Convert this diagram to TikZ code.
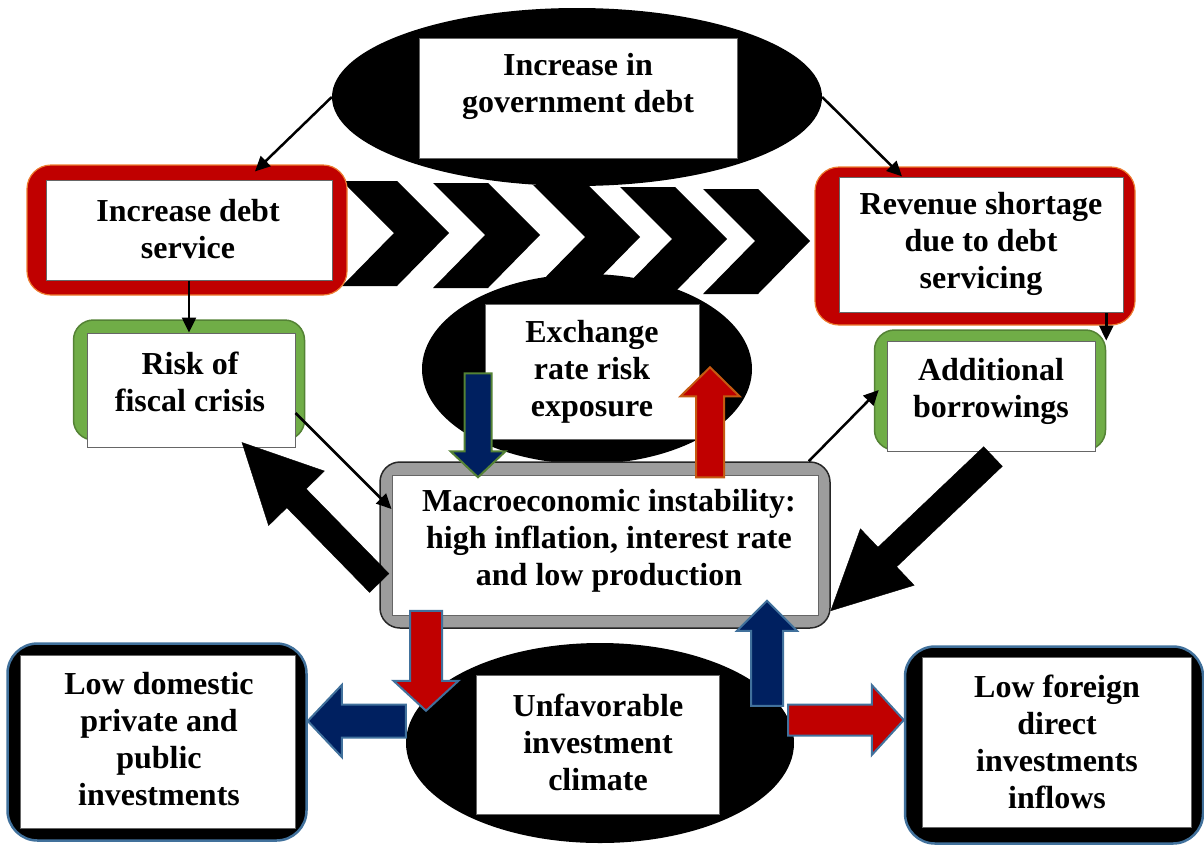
\documentclass[tikz,border=0pt]{standalone}
\usepackage{fontspec}
\setmainfont{Liberation Serif}
\usetikzlibrary{shapes.geometric,arrows.meta,calc}

\definecolor{boxred}{HTML}{C00000}
\definecolor{rimorange}{HTML}{ED7D31}
\definecolor{rimbrown}{HTML}{C55A11}
\definecolor{boxgreen}{HTML}{70AD47}
\definecolor{rimgreen}{HTML}{548235}
\definecolor{navy}{HTML}{002060}
\definecolor{rimblue}{HTML}{41719C}
\definecolor{framegray}{HTML}{9D9D9D}

% thick block arrow from #2 to #3 (#4 half shaft, #5 half head, #6 head length)
\newcommand\fatarrow[6]{%
  \coordinate (fa-h) at ($(#3)!#6!(#2)$);
  \draw[#1] ($(#2)!#4!90:(#3)$) -- ($(fa-h)!#4!90:(#3)$) -- ($(fa-h)!#5!90:(#3)$)
    -- (#3) -- ($(fa-h)!#5!-90:(#3)$) -- ($(fa-h)!#4!-90:(#3)$) -- ($(#2)!#4!-90:(#3)$) -- cycle;
}

\begin{document}
\begin{tikzpicture}[
  x=1pt, y=-1pt,
  blob/.style={ellipse, fill=black, inner sep=0pt},
  card/.style={rectangle, fill=white, draw=black!60, line width=1pt, inner sep=0pt},
  hotframe/.style={rectangle, rounded corners=24pt, fill=boxred, draw=rimorange, line width=1.2pt, inner sep=0pt},
  calmframe/.style={rectangle, rounded corners=20pt, fill=boxgreen, draw=rimgreen, line width=1.5pt, inner sep=0pt},
  dullframe/.style={rectangle, rounded corners=20pt, fill=framegray, draw=black!85, line width=1.5pt, inner sep=0pt},
  darkframe/.style={rectangle, rounded corners=30pt, fill=black, draw=rimblue, line width=2.5pt, inner sep=0pt},
  txt/.style={font=\bfseries\fontsize{32}{37}\selectfont, align=center, inner sep=0pt},
  feed/.style={line width=2.5pt, -{Triangle[length=15pt,width=14pt]}},
  fat/.style 2 args={fill=#1, draw=#2, line width=2pt, line join=miter}
]
\useasboundingbox (0,0) rectangle (1204,844);

% chevron band
\foreach \cx/\cy in {342/181,433/183,533/185,620/187,703/189}
  \fill (\cx,\cy) -- ++(55,0) -- ++(52,52) -- ++(-52,53) -- ++(-55,0) -- ++(52,-53) -- cycle;

% ellipses
\node[blob, minimum width=490pt, minimum height=178pt] (govE) at (577,97) {};
\node[blob, minimum width=330pt, minimum height=190pt] (xrE) at (587,369) {};
\node[blob, minimum width=388pt, minimum height=200pt] (invE) at (600,743) {};

\node[card, minimum width=318pt, minimum height=120pt] (govW) at (578,98) {};
\node[txt] (gov) at (578,86) {Increase in\\government debt};

\node[card, minimum width=214pt, minimum height=135pt] (xrW) at (592,372) {};
\node[txt] (xr) at (592,372) {Exchange\\rate risk\\exposure};

\node[card, minimum width=243pt, minimum height=139pt] (invW) at (598,745) {};
\node[txt] (inv) at (598,742) {Unfavorable\\investment\\climate};

% debt service and revenue
\node[hotframe, minimum width=320pt, minimum height=130pt] (debtF) at (187,230) {};
\node[card, minimum width=286pt, minimum height=100pt] (debtW) at (189,230) {};
\node[txt] (debt) at (188,229) {Increase debt\\service};

\node[hotframe, minimum width=320pt, minimum height=158pt] (revF) at (975,246) {};
\node[card, minimum width=284pt, minimum height=135pt] (revW) at (981,245) {};
\node[txt] (rev) at (981,244) {Revenue shortage\\due to debt\\servicing};

% risk and borrowings
\node[calmframe, minimum width=231pt, minimum height=120pt] (riskF) at (189,380) {};
\node[card, minimum width=208pt, minimum height=114pt] (riskW) at (191,390) {};
\node[txt] (risk) at (190,382) {Risk of\\fiscal crisis};

\node[calmframe, minimum width=231pt, minimum height=120pt] (addlF) at (990,390) {};
\node[card, minimum width=208pt, minimum height=110pt] (addlW) at (991,396) {};
\node[txt] (addl) at (991,391) {Additional\\borrowings};

% macro box
\node[dullframe, minimum width=450pt, minimum height=166pt] (macroF) at (605,545) {};
\node[card, minimum width=426pt, minimum height=140pt] (macroW) at (605,545) {};
\node[txt] (macro) at (609,541) {Macroeconomic instability:\\high inflation, interest rate\\and low production};

% investment outcomes
\node[darkframe, minimum width=299pt, minimum height=197pt] (domF) at (157,742) {};
\node[card, minimum width=275pt, minimum height=173pt] (domW) at (158,742) {};
\node[txt] (dom) at (159,739) {Low domestic\\private and\\public\\investments};

\node[darkframe, minimum width=298pt, minimum height=197pt] (fdiF) at (1054,745) {};
\node[card, minimum width=269pt, minimum height=170pt] (fdiW) at (1057,742) {};
\node[txt] (fdi) at (1057,742) {Low foreign\\direct\\investments\\inflows};

% thin links
\draw[feed] (govE.west) -- ([xshift=68pt,yshift=-7pt]debtF.north);
\draw[feed] (govE.east) -- ([xshift=-73pt,yshift=-10pt]revF.north);
\draw[feed] (debtW.south) -- (riskW.north -| debtW.south);
\draw[feed] (revW.south -| addlF.east) -- (addlW.north -| addlF.east);
\draw[feed] ([yshift=-23pt]riskW.east) -- ([yshift=36pt]macroW.west);
\draw[feed] ([xshift=-22pt]macroF.north east) -- ([xshift=5pt]addlF.west);

% block arrows
\coordinate (bigL0) at ([yshift=-38pt]macroF.west);
\coordinate (bigL1) at ([xshift=51pt,yshift=5pt]riskW.south);
\coordinate (bigR0) at ([xshift=2pt,yshift=-5pt]addlW.south);
\coordinate (bigR1) at ([yshift=18pt]macroF.south east);
\coordinate (xrDn0) at ([xshift=-127pt,yshift=88pt]macroF.north);
\coordinate (xrDn1) at ([xshift=-127pt,yshift=-16pt]macroF.north);
\coordinate (xrUp0) at ([xshift=105pt,yshift=-16pt]macroF.north);
\coordinate (xrUp1) at ([xshift=105pt,yshift=94pt]macroF.north);
\coordinate (invDn0) at ([xshift=-179pt,yshift=18pt]macroF.south);
\coordinate (invDn1) at ([xshift=-179pt,yshift=-82pt]macroF.south);
\coordinate (invUp0) at ([xshift=162pt,yshift=-77pt]macroF.south);
\coordinate (invUp1) at ([xshift=162pt,yshift=28pt]macroF.south);
\coordinate (domIn0) at ([yshift=22pt]invE.west);
\coordinate (domIn1) at ([yshift=21pt]domF.east);
\coordinate (fdiIn0) at ([xshift=-6pt,yshift=23pt]invE.east);
\coordinate (fdiIn1) at ([yshift=25pt]fdiF.west);

\fatarrow{fill=black}{bigL0}{bigL1}{13.5pt}{39pt}{78pt}
\fatarrow{fill=black}{bigR0}{bigR1}{13.5pt}{39pt}{78pt}
\fatarrow{fat={navy}{rimgreen}}{xrDn0}{xrDn1}{13.5pt}{27.5pt}{26pt}
\fatarrow{fat={boxred}{rimbrown}}{xrUp0}{xrUp1}{14pt}{29.5pt}{29pt}
\fatarrow{fat={boxred}{rimblue}}{invDn0}{invDn1}{16pt}{32.5pt}{30pt}
\fatarrow{fat={navy}{rimblue}}{invUp0}{invUp1}{16pt}{30pt}{30pt}
\fatarrow{fat={navy}{rimblue}}{domIn0}{domIn1}{16.5pt}{36pt}{34pt}
\fatarrow{fat={boxred}{rimblue}}{fdiIn0}{fdiIn1}{15.5pt}{35pt}{32pt}

\end{tikzpicture}
\end{document}
